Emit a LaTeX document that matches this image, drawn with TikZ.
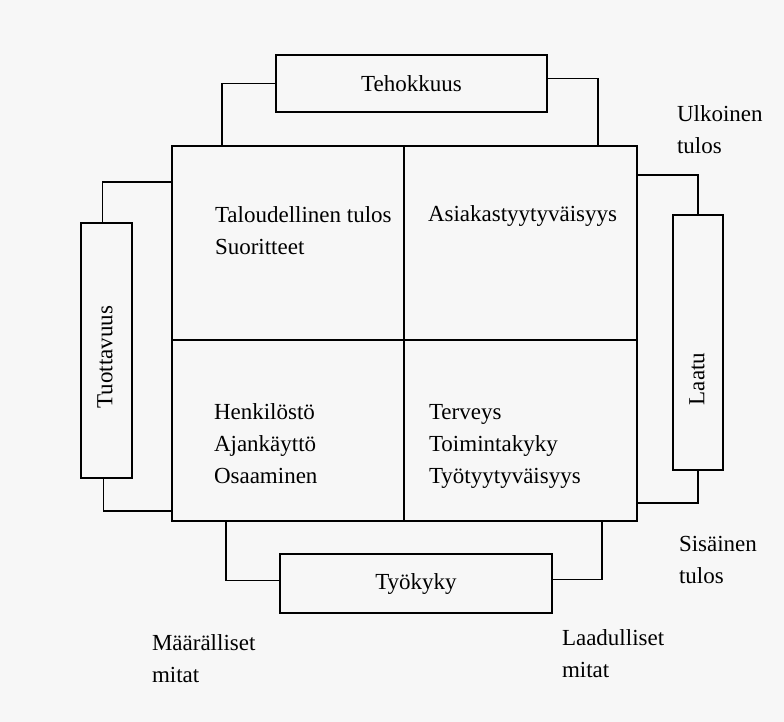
\documentclass[tikz,border=0pt]{standalone}
\usepackage{fontspec}
\setmainfont{Liberation Serif}
\begin{document}
\begin{tikzpicture}[x=1pt,y=-1pt,
  line width=1.1pt,
  every node/.style={inner sep=0pt, outer sep=0pt},
  frame/.style={draw, rectangle, font=\fontsize{23}{33}\selectfont},
  label/.style={anchor=base west, align=left, font=\fontsize{23}{32}\selectfont},
  link/.style={draw}]
  % paper
  \fill[fill={rgb,255:red,247;green,247;blue,247}] (0,0) rectangle (784,722);
  \useasboundingbox (0,0) rectangle (784,722);

  % central square with its four quarters
  \node[draw, minimum width=465pt, minimum height=375pt] (sq) at (404.5,333.5) {};
  \coordinate (mid) at (404,340);
  \draw (mid |- sq.north) -- (mid |- sq.south);
  \draw (sq.west |- mid) -- (sq.east |- mid);

  % surrounding measures
  \node[frame, minimum width=271pt, minimum height=57pt] (teho) at (411.5,83.5) {Tehokkuus};
  \node[frame, minimum width=51pt, minimum height=255pt] (tuotto) at (106.5,350.5) {};
  \node[rotate=90, font=\fontsize{23}{33}\selectfont] (tuottot) at (105,357) {Tuottavuus};
  \node[frame, minimum width=50pt, minimum height=255pt] (laatu) at (698,342.5) {};
  \node[rotate=90, font=\fontsize{23}{33}\selectfont] (laatut) at (697,379) {Laatu};
  \node[frame, minimum width=272pt, minimum height=59pt] (tyo) at (416,583.5) {Työkyky};

  % connector turning points
  \coordinate (ct1) at (222,0);
  \coordinate (ct2) at (598,0);
  \coordinate (cl1) at (0,182);
  \coordinate (cl2) at (0,511);
  \coordinate (cr1) at (0,175);
  \coordinate (cr2) at (0,503);
  \coordinate (cb1) at (226,0);
  \coordinate (cb2) at (602,0);

  \draw[link] (teho.west) -| (ct1 |- sq.north);
  \draw[link] ([yshift=5pt]teho.east) -| (ct2 |- sq.north);
  \draw[link] ([xshift=-4pt]tuotto.north) |- (sq.west |- cl1);
  \draw[link] ([xshift=-3pt]tuotto.south) |- (sq.west |- cl2);
  \draw[link] (laatu.north) |- (sq.east |- cr1);
  \draw[link] (laatu.south) |- (sq.east |- cr2);
  \draw[link] ([yshift=3pt]tyo.west) -| (cb1 |- sq.south);
  \draw[link] ([yshift=4pt]tyo.east) -| (cb2 |- sq.south);

  % quarter contents (anchored on the baseline of the last line)
  \node[label] (q1) at (215,254) {Taloudellinen tulos\\Suoritteet};
  \node[label] (q2) at (428,222) {Asiakastyytyväisyys};
  \node[label] (q3) at (214,483) {Henkilöstö\\Ajankäyttö\\Osaaminen};
  \node[label] (q4) at (429,483) {Terveys\\Toimintakyky\\Työtyytyväisyys};

  % side captions
  \node[label] (ulk) at (677,154) {Ulkoinen\\tulos};
  \node[label] (sis) at (679,583) {Sisäinen\\tulos};
  \node[label] (maar) at (152,682) {Määrälliset\\mitat};
  \node[label] (laad) at (562,677) {Laadulliset\\mitat};
\end{tikzpicture}
\end{document}
